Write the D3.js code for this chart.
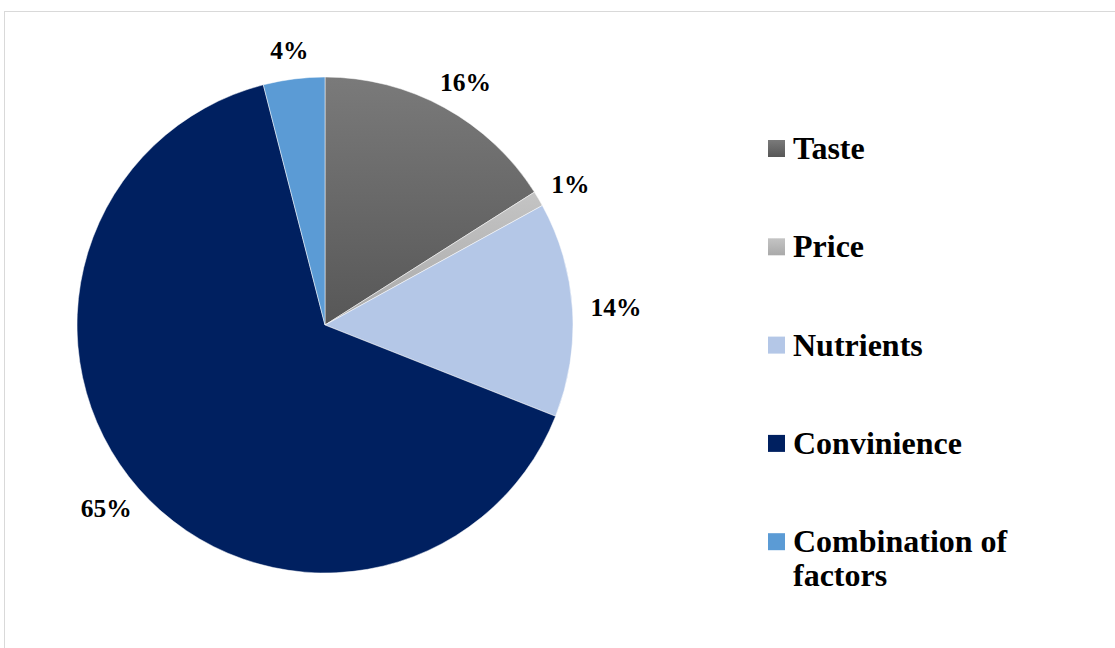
<!DOCTYPE html>
<html><head><meta charset="utf-8">
<script src="https://cdn.jsdelivr.net/npm/d3@7"></script>
<style>html,body{margin:0;padding:0;background:#fff;}svg{display:block;}text{font-family:"Liberation Serif","Times New Roman",serif;font-weight:bold;}</style>
</head><body>
<svg id="chart" width="1115" height="648"></svg>
<script>
const categories = ["Taste", "Price", "Nutrients", "Convinience", "Combination of factors"];
const values = [16, 1, 14, 65, 4];
const labels = ["16%", "1%", "14%", "65%", "4%"];
const legendLines = [["Taste"], ["Price"], ["Nutrients"], ["Convinience"], ["Combination of", "factors"]];

const svg = d3.select("#chart");
const W = 1115, H = 648;
const cx = 325, cy = 325, R = 248;

const defs = svg.append("defs");
function grad(id, c1, c2) {
  const g = defs.append("linearGradient").attr("id", id).attr("x1", 0).attr("y1", 0).attr("x2", 0).attr("y2", 1);
  g.append("stop").attr("offset", "0%").attr("stop-color", c1);
  g.append("stop").attr("offset", "100%").attr("stop-color", c2);
}
grad("gTaste", "#7a7a7a", "#575757");
grad("gPrice", "#c4c4c4", "#a9a9a9");
grad("gTasteL", "#7a7a7a", "#575757");
grad("gPriceL", "#c4c4c4", "#a9a9a9");
const fills = ["url(#gTaste)", "url(#gPrice)", "#b4c7e7", "#002060", "#5b9bd5"];
const legendFills = ["url(#gTasteL)", "url(#gPriceL)", "#b4c7e7", "#002060", "#5b9bd5"];

// chart area border
svg.append("rect").attr("x", 4.5).attr("y", 11.5).attr("width", W + 20).attr("height", H + 20)
  .attr("fill", "none").attr("stroke", "#d9d9d9").attr("stroke-width", 1);

const pie = d3.pie().sort(null).value(d => d)(values);
const arc = d3.arc().innerRadius(0).outerRadius(R);

const g = svg.append("g").attr("transform", `translate(${cx},${cy})`);
g.selectAll("path.slice").data(pie).join("path")
  .attr("class", "slice")
  .attr("d", arc)
  .attr("fill", (d, i) => fills[i])
  .attr("stroke", "#ffffff").attr("stroke-width", 0.5);

// outside-end labels
const labelFont = 25.5;
g.selectAll("text.lbl").data(pie).join("text")
  .attr("class", "lbl")
  .style("font-size", labelFont + "px")
  .attr("fill", "#000").attr("text-anchor", "middle")
  .each(function(d, i) {
    const t = d3.select(this).text(labels[i]);
    const w = this.getComputedTextLength();
    const h = labelFont * 0.86;
    const a = (d.startAngle + d.endAngle) / 2;
    const s = Math.sin(a), c = Math.cos(a);
    const rr = R + 18;
    const x = rr * s + s * w / 2;
    const y = -rr * c - c * h / 2;
    t.attr("x", x).attr("y", y + labelFont * 0.34);
  });

// legend
const legendFont = 32;
const lx = 768, ly0 = 159, lstep = 98.3, lineH = 33.5;
const leg = svg.append("g");
legendLines.forEach((lines, i) => {
  const by = ly0 + i * lstep;
  leg.append("rect").attr("x", lx).attr("y", by - 19).attr("width", 17).attr("height", 17)
    .attr("fill", legendFills[i]);
  const t = leg.append("text").style("font-size", legendFont + "px").attr("fill", "#000");
  lines.forEach((ln, j) => {
    t.append("tspan").attr("x", lx + 25).attr("y", by + j * lineH).text(ln);
  });
});
</script>
</body></html>
